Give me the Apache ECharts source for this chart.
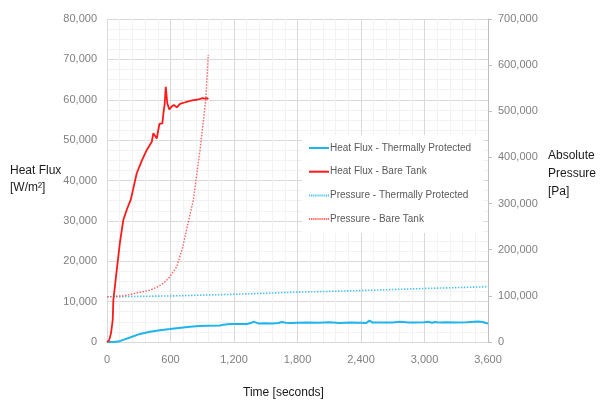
<!DOCTYPE html>
<html><head><meta charset="utf-8">
<script src="https://cdn.jsdelivr.net/npm/echarts@6/dist/echarts.min.js"></script>
<style>html,body{margin:0;padding:0;background:#fff}#c{width:602px;height:402px}</style>
</head><body><div id="c"></div>
<script>
// Heat Flux - Bare Tank
var tHFBare = [0, 20, 38, 54, 60, 92, 123, 154, 190, 224, 281, 330, 375, 423, 438, 455, 470, 495, 510, 523, 533, 545, 555, 570, 589, 611, 633, 659, 690, 720, 753, 785, 816, 850, 879, 905, 926, 945, 957];
var hfBare = [0, 400, 2200, 5450, 10400, 17800, 24800, 30200, 33000, 35200, 41800, 45000, 47500, 49600, 51700, 51000, 50400, 54000, 53800, 54150, 56600, 59000, 63200, 59100, 57600, 58300, 58700, 58100, 59000, 59200, 59500, 59700, 59900, 60000, 60200, 60400, 60300, 60400, 60100];
// Heat Flux - Thermally Protected
var tHFProt = [0, 60, 107, 160, 217, 312, 406, 500, 595, 700, 784, 870, 943, 1068, 1100, 1162, 1250, 1320, 1360, 1383, 1410, 1430, 1500, 1560, 1620, 1651, 1690, 1750, 1800, 1900, 2000, 2100, 2200, 2300, 2400, 2450, 2480, 2510, 2600, 2700, 2770, 2850, 2900, 3000, 3033, 3070, 3100, 3150, 3200, 3300, 3400, 3506, 3550, 3580, 3600];
var hfProt = [0, 0, 100, 600, 1100, 2000, 2550, 2900, 3200, 3550, 3800, 3950, 4050, 4100, 4300, 4450, 4450, 4450, 4700, 5000, 4800, 4600, 4650, 4600, 4700, 4950, 4750, 4700, 4750, 4800, 4750, 4900, 4700, 4800, 4750, 4700, 5300, 4800, 4800, 4850, 5000, 4850, 4850, 4900, 5000, 4750, 4950, 4800, 4900, 4850, 4900, 5050, 4950, 4700, 4600];
// Pressure - Thermally Protected
var tPProt = [0, 600, 1200, 1800, 2400, 3000, 3600];
var pProt = [98000, 99800, 103400, 108000, 111500, 116000, 119800];
// Pressure - Bare Tank
var tPBare = [0, 154, 312, 400, 470, 532, 595, 659, 715, 768, 816, 879, 933, 957];
var pBare = [98000, 100000, 107700, 112000, 118500, 127000, 141500, 163000, 205000, 260000, 308000, 416000, 524000, 622000];

var xTicks = [0, 600, 1200, 1800, 2400, 3000, 3600];
var leftTicks = [0, 10000, 20000, 30000, 40000, 50000, 60000, 70000, 80000];
var rightTicks = [0, 100000, 200000, 300000, 400000, 500000, 600000, 700000];
var seriesNames = ['Heat Flux - Thermally Protected', 'Heat Flux - Bare Tank', 'Pressure - Thermally Protected', 'Pressure - Bare Tank'];

function zip(a, b) { return a.map(function (v, i) { return [v, b[i]]; }); }
function fmt(v) { return String(v).replace(/\B(?=(\d{3})+(?!\d))/g, ','); }

var solidIcon = 'path://M0,0H20V2H0Z';
var dotIcon = 'path://';
for (var k = 0; k < 10; k++) { dotIcon += 'M' + (k * 2) + ',0h1.2v2h-1.2Z'; }

var FONT = 'Liberation Sans';
var chart = echarts.init(document.getElementById('c'));
chart.setOption({
  animation: false,
  backgroundColor: '#fff',
  textStyle: { fontFamily: FONT },
  grid: { left: 107, right: 114, top: 19, bottom: 60, containLabel: false },
  xAxis: {
    type: 'value', min: xTicks[0], max: xTicks[xTicks.length - 1], interval: 600,
    axisLine: { show: true, lineStyle: { color: '#d9d9d9' } },
    axisTick: { show: false },
    axisLabel: { color: '#7f7f7f', fontSize: 11, fontFamily: FONT, margin: 12, formatter: fmt },
    splitLine: { show: true, lineStyle: { color: '#d9d9d9', width: 1 } },
    minorTick: { show: false, splitNumber: 5 },
    minorSplitLine: { show: true, lineStyle: { color: '#f2f2f2', width: 1 } }
  },
  yAxis: [{
    type: 'value', min: leftTicks[0], max: leftTicks[leftTicks.length - 1], interval: 10000,
    axisLine: { show: false },
    axisTick: { show: false },
    axisLabel: { color: '#7f7f7f', fontSize: 11, fontFamily: FONT, margin: 10, formatter: fmt },
    splitLine: { show: true, lineStyle: { color: '#d9d9d9', width: 1 } },
    minorTick: { show: false, splitNumber: 4 },
    minorSplitLine: { show: true, lineStyle: { color: '#f2f2f2', width: 1 } }
  }, {
    type: 'value', min: rightTicks[0], max: rightTicks[rightTicks.length - 1], interval: 100000, position: 'right',
    axisLine: { show: true, lineStyle: { color: '#bfbfbf' } },
    axisTick: { show: true, length: 4, lineStyle: { color: '#bfbfbf' } },
    axisLabel: { color: '#7f7f7f', fontSize: 11, fontFamily: FONT, margin: 10, formatter: fmt },
    splitLine: { show: false }
  }],
  legend: {
    orient: 'vertical', left: 302, top: 135,
    backgroundColor: '#ffffff',
    padding: [7, 12, 8, 7],
    itemWidth: 20, itemHeight: 2, itemGap: 11.7,
    symbolKeepAspect: false,
    textStyle: { color: '#595959', fontSize: 10, fontFamily: FONT, lineHeight: 12, padding: [0, 0, 0, -4] },
    data: [
      { name: seriesNames[0], icon: solidIcon, itemStyle: { color: '#1fb4ec' } },
      { name: seriesNames[1], icon: solidIcon, itemStyle: { color: '#ff1a1a' } },
      { name: seriesNames[2], icon: dotIcon, itemStyle: { color: '#4cc3f0' } },
      { name: seriesNames[3], icon: dotIcon, itemStyle: { color: '#ff6060' } }
    ]
  },
  graphic: [
    { type: 'text', left: 10, top: 165, style: { text: 'Heat Flux', fill: '#1a1a1a', font: '12px "' + FONT + '"' } },
    { type: 'text', left: 10, top: 182, style: { text: '[W/m²]', fill: '#1a1a1a', font: '12px "' + FONT + '"' } },
    { type: 'text', left: 548, top: 150, style: { text: 'Absolute', fill: '#1a1a1a', font: '12px "' + FONT + '"' } },
    { type: 'text', left: 548, top: 168, style: { text: 'Pressure', fill: '#1a1a1a', font: '12px "' + FONT + '"' } },
    { type: 'text', left: 548, top: 186, style: { text: '[Pa]', fill: '#1a1a1a', font: '12px "' + FONT + '"' } },
    { type: 'text', left: 243, top: 387, style: { text: 'Time [seconds]', fill: '#1a1a1a', font: '12px "' + FONT + '"' } }
  ],
  series: [
    { name: seriesNames[0], type: 'line', yAxisIndex: 0, symbol: 'none', z: 4,
      lineStyle: { color: '#1fb4ec', width: 2 }, itemStyle: { color: '#1fb4ec' }, data: zip(tHFProt, hfProt) },
    { name: seriesNames[1], type: 'line', yAxisIndex: 0, symbol: 'none', z: 4,
      lineStyle: { color: '#ff1a1a', width: 1.8 }, itemStyle: { color: '#ff1a1a' }, data: zip(tHFBare, hfBare) },
    { name: seriesNames[2], type: 'line', yAxisIndex: 1, symbol: 'none', z: 3,
      lineStyle: { color: '#4cc3f0', width: 1.6, type: [1.5, 1.5] }, itemStyle: { color: '#4cc3f0' }, data: zip(tPProt, pProt) },
    { name: seriesNames[3], type: 'line', yAxisIndex: 1, symbol: 'none', z: 3,
      lineStyle: { color: '#ff6060', width: 1.4, type: [1.5, 1.5] }, itemStyle: { color: '#ff6060' }, data: zip(tPBare, pBare) }
  ]
});
</script></body></html>
